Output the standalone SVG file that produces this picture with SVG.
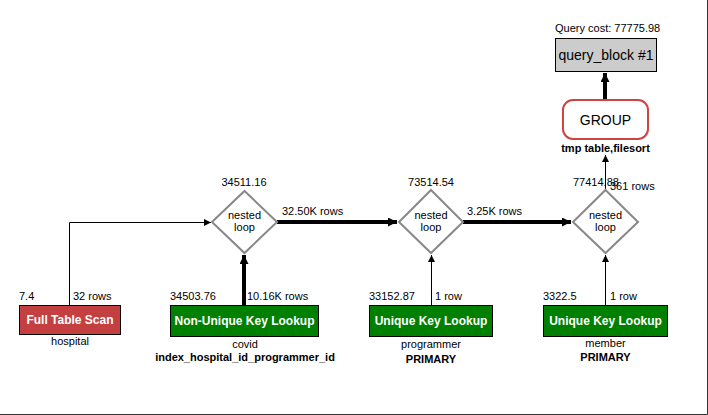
<svg xmlns="http://www.w3.org/2000/svg" width="708" height="415" viewBox="0 0 708 415">
<defs>
<style>
text{font-family:"Liberation Sans",Arial,Helvetica,sans-serif;font-size:11px;fill:#000}
.c{text-anchor:middle}
.b{font-weight:bold}
.bt{font-weight:bold;font-size:12px;fill:#fff;text-anchor:middle}
.dia{fill:#fff;stroke:#888;stroke-width:2}
.tbl{stroke:#000;stroke-width:1}
.thin{fill:none;stroke:#000;stroke-width:1}
.thick{fill:none;stroke:#000;stroke-width:4}
</style>
<marker id="a" viewBox="0 0 10 10" refX="10" refY="5" markerWidth="10" markerHeight="7" markerUnits="userSpaceOnUse" orient="auto"><path d="M0,0L10,5L0,10z" fill="#000"/></marker>
<marker id="at" viewBox="0 0 10 10" refX="10" refY="5" markerWidth="11" markerHeight="9" markerUnits="userSpaceOnUse" orient="auto"><path d="M0,0L10,5L0,10z" fill="#000"/></marker>
</defs>
<rect width="708" height="415" fill="#fff"/>
<path d="M707.5,0V414.5H0" fill="none" stroke="#333" stroke-width="1"/>
<g id="connectors">
<path class="thin" d="M69.5,305V222.5H211" marker-end="url(#a)"/>
<path class="thick" d="M244,305V255" marker-end="url(#at)"/>
<path class="thick" d="M277,222H397" marker-end="url(#at)"/>
<path class="thin" d="M431.5,305V255" marker-end="url(#a)"/>
<path class="thick" d="M463,222H571" marker-end="url(#at)"/>
<path class="thin" d="M605.5,305V255" marker-end="url(#a)"/>
<path class="thin" d="M605.5,190V155" marker-end="url(#a)"/>
<path class="thick" d="M605,100V73" marker-end="url(#at)"/>
<text x="282" y="215">32.50K rows</text>
<text x="467" y="215">3.25K rows</text>
<text x="73" y="300">32 rows</text>
<text x="247" y="300">10.16K rows</text>
<text x="435" y="300">1 row</text>
<text x="610" y="300">1 row</text>
<text x="610" y="190">361 rows</text>
</g>
<g id="query_block">
<text x="555" y="32">Query cost: 77775.98</text>
<rect x="555.5" y="38.5" width="101" height="33" fill="#ccc" class="tbl"/>
<text x="606" y="60" class="c" style="font-size:14px">query_block #1</text>
</g>
<g id="group">
<rect x="563" y="100" width="85" height="39" rx="10" fill="#fff" stroke="#c44" stroke-width="2"/>
<text x="605.5" y="125" class="c" style="font-size:14px">GROUP</text>
<text x="605.5" y="152" class="c b">tmp table,filesort</text>
</g>
<g id="nl1">
<text x="244" y="186" class="c">34511.16</text>
<path class="dia" d="M244.5,191L277,222L244.5,253L212,222z"/>
<text x="244.5" y="219" class="c">nested</text>
<text x="244.5" y="231" class="c">loop</text>
</g>
<g id="nl2">
<text x="431" y="186" class="c">73514.54</text>
<path class="dia" d="M431,190L463,222L431,253L399,222z"/>
<text x="431" y="219" class="c">nested</text>
<text x="431" y="231" class="c">loop</text>
</g>
<g id="nl3">
<text x="573" y="186">77414.88</text>
<path class="dia" d="M605.5,190L638,222L605.5,253L573,222z"/>
<text x="605.5" y="219" class="c">nested</text>
<text x="605.5" y="231" class="c">loop</text>
</g>
<g id="hospital">
<text x="19" y="300">7.4</text>
<rect x="19.5" y="305.5" width="101" height="29" fill="#c44040" class="tbl"/>
<text x="70" y="324" class="bt">Full Table Scan</text>
<text x="70" y="345" class="c">hospital</text>
</g>
<g id="covid">
<text x="170" y="300">34503.76</text>
<rect x="170.5" y="305.5" width="148" height="31" fill="#008000" class="tbl"/>
<text x="244.5" y="325" class="bt">Non-Unique Key Lookup</text>
<text x="245" y="348" class="c">covid</text>
<text x="245" y="361" class="c b">index_hospital_id_programmer_id</text>
</g>
<g id="programmer">
<text x="369" y="300">33152.87</text>
<rect x="369.5" y="305.5" width="123" height="31" fill="#008000" class="tbl"/>
<text x="431" y="325" class="bt">Unique Key Lookup</text>
<text x="431" y="348" class="c">programmer</text>
<text x="431" y="363" class="c b">PRIMARY</text>
</g>
<g id="member">
<text x="543" y="300">3322.5</text>
<rect x="543.5" y="305.5" width="124" height="31" fill="#008000" class="tbl"/>
<text x="605.5" y="325" class="bt">Unique Key Lookup</text>
<text x="605.5" y="347" class="c">member</text>
<text x="605.5" y="361" class="c b">PRIMARY</text>
</g>
</svg>
